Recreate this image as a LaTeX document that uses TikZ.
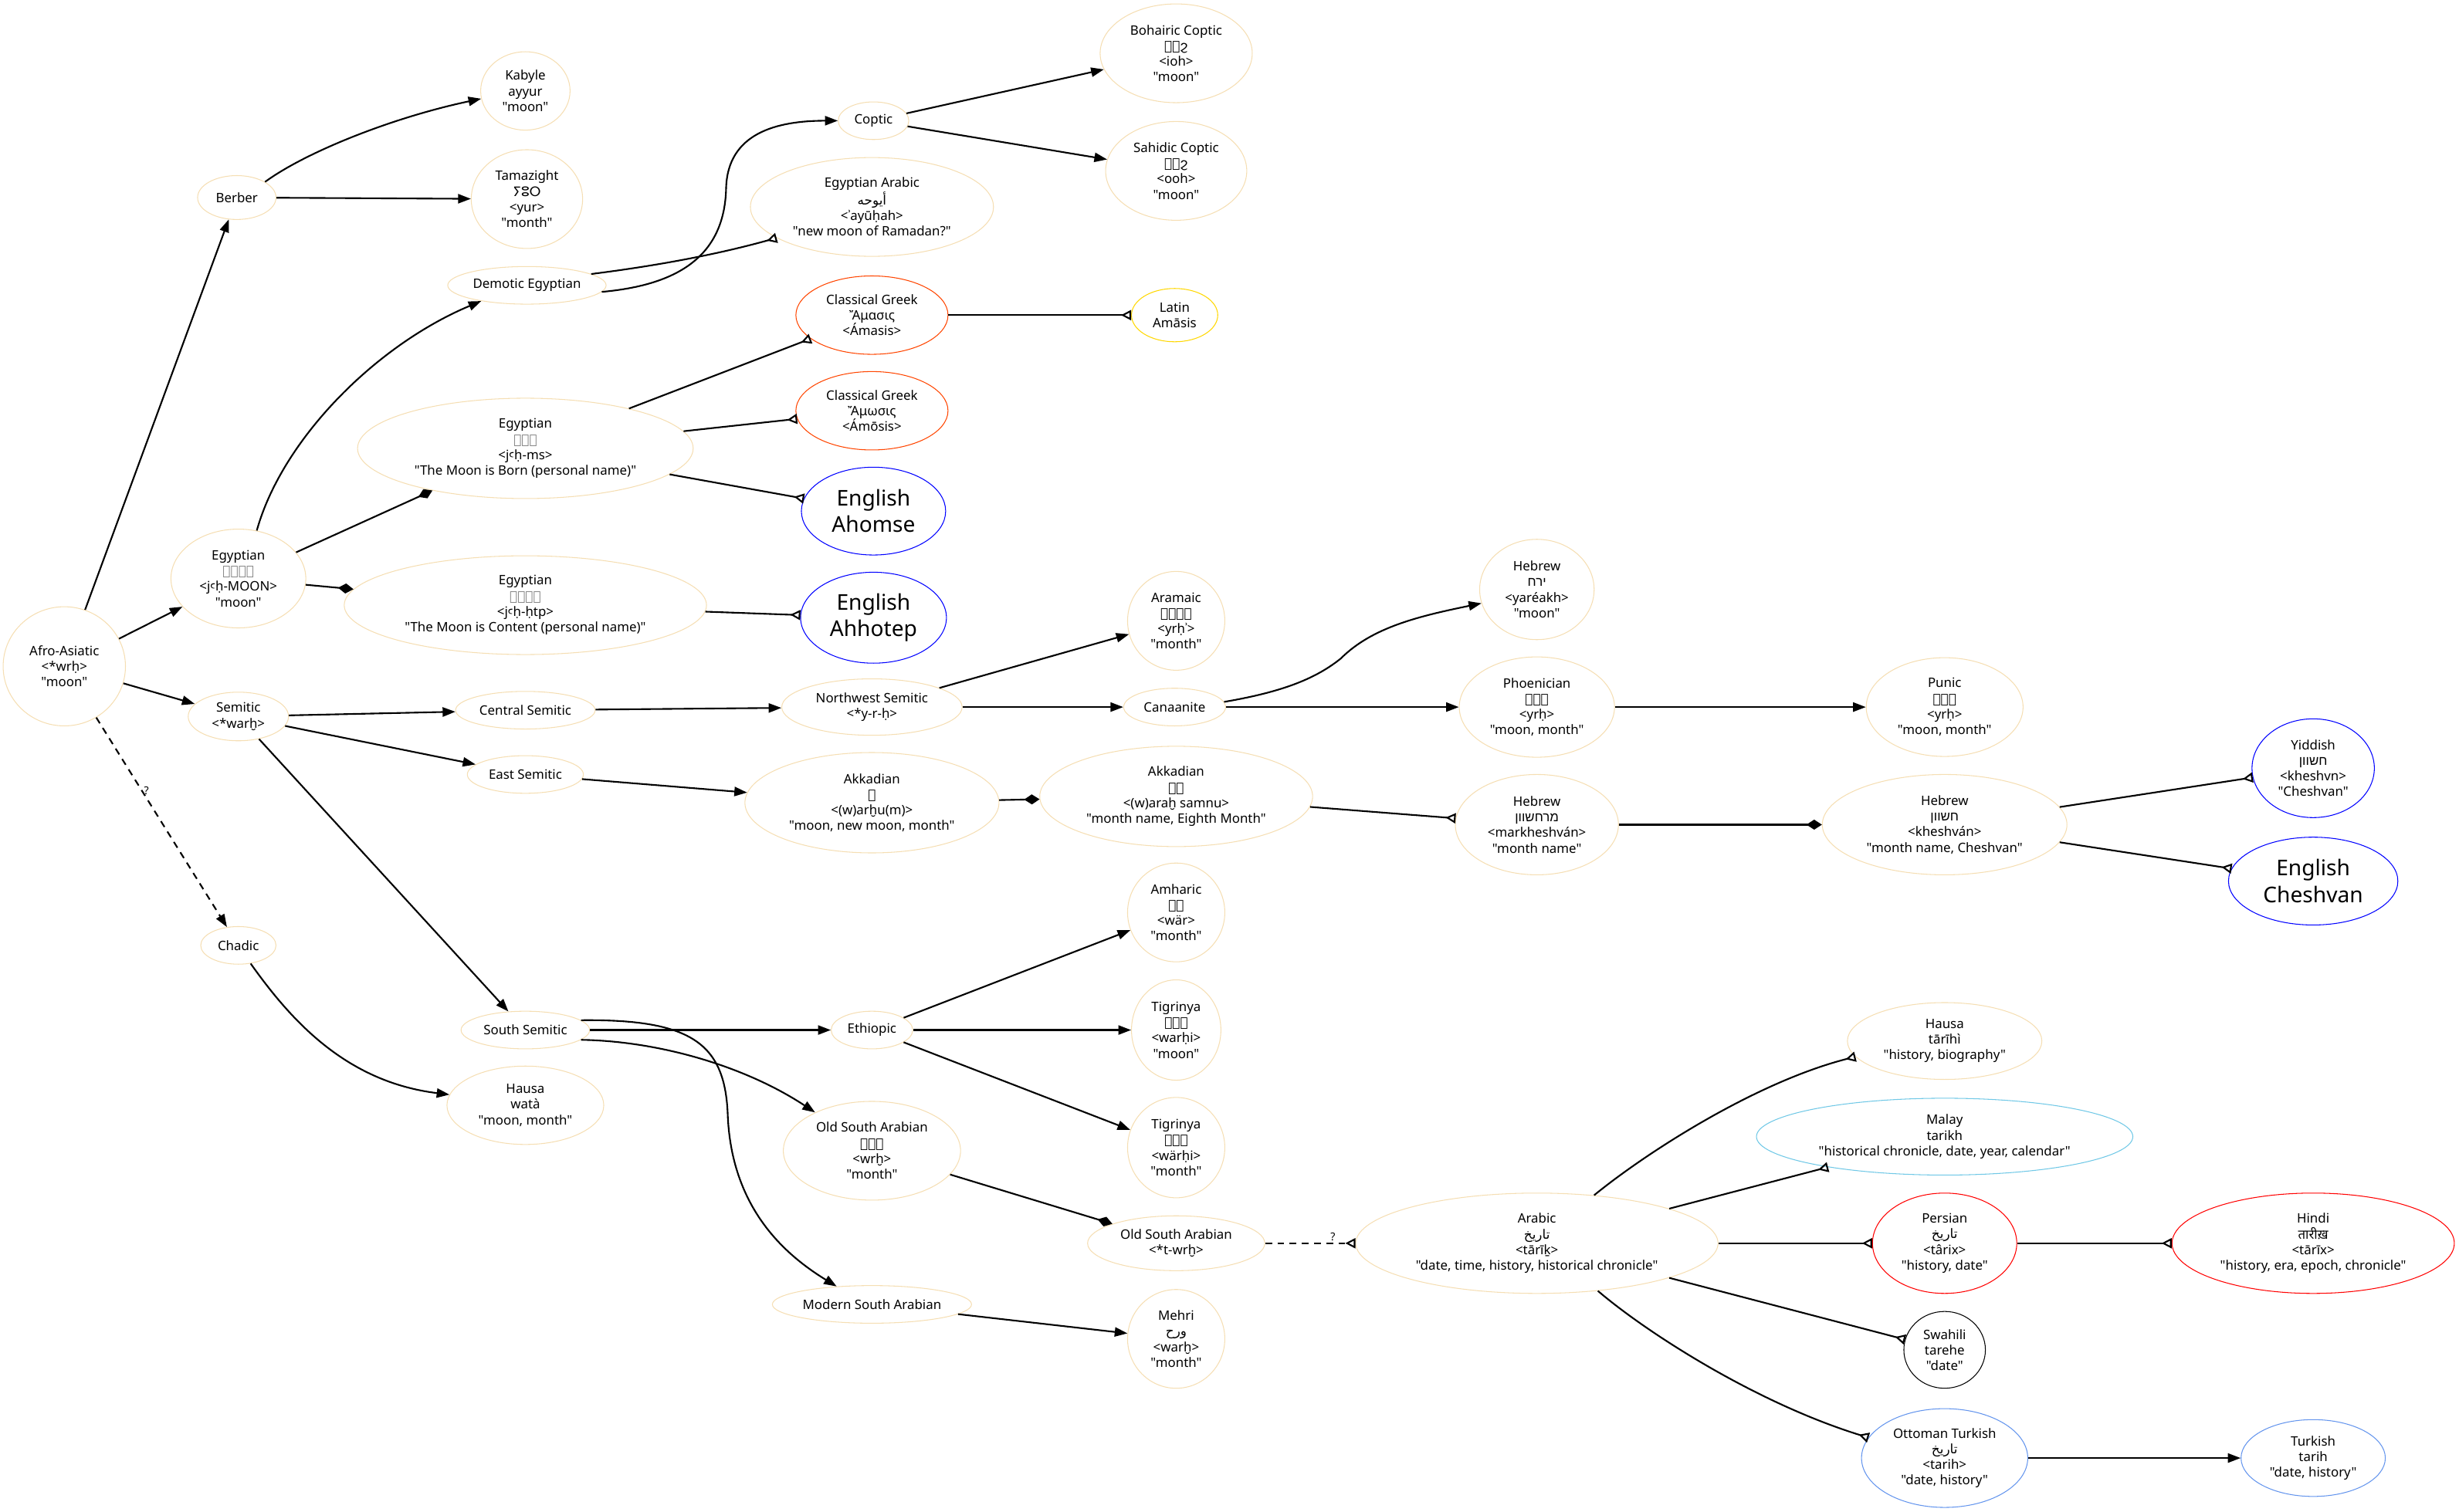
\documentclass[tikz,border=0pt]{standalone}
\usepackage{fontspec}
\setmainfont{Noto Sans}[Ligatures=TeXOff]
\newfontfamily\dvfont{DejaVu Sans}[Ligatures=TeXOff]
\newfontfamily\arfont[Script=Arabic]{DejaVu Sans}
\newfontfamily\hebfont[Script=Hebrew]{Liberation Sans}
\newfontfamily\devfont[Script=Devanagari]{Noto Sans}
\usepackage{xcolor}
\usetikzlibrary{shapes.geometric, arrows.meta}
\TeXXeTstate=1

\definecolor{wheat}{HTML}{F5DEB3}
\definecolor{orangered}{HTML}{FF4500}
\definecolor{gold}{HTML}{FFD700}
\definecolor{cornflower}{HTML}{6495ED}
\definecolor{skyline}{HTML}{70C8E6}

% scripts without a loaded font keep their line height
\newcommand\glyphs[1]{{\dvfont\color{gray}#1}\strut}
\newcommand\rare[1]{{\dvfont #1}\strut}
\newcommand\rarer[1]{{\dvfont\beginR #1\endR}\strut}

\begin{document}
\begin{tikzpicture}[
    x=0.0406cm, y=-0.0406cm,
    font=\fontsize{9.6}{11.5}\selectfont,
    lang/.style={ellipse, draw=wheat, line width=0.6pt, align=center, inner sep=0pt},
    sz/.style 2 args={minimum width=#1*0.0406cm, minimum height=#2*0.0406cm},
    eng/.style={lang, draw=blue, font=\fontsize{16}{19.6}\selectfont},
    link/.style={line width=1.2pt, -{Triangle[length=0.33cm, width=0.24cm]}},
    merge/.style={line width=1.2pt, -{Diamond[length=0.4cm, width=0.26cm]}},
    borrow/.style={line width=1.2pt, -{Triangle[open, reversed, length=0.26cm, width=0.26cm]}},
    qmark/.style={font=\fontsize{8}{9}\selectfont, inner sep=1pt},
    dashes/.style={dash pattern=on 5pt off 4pt}
]
    \useasboundingbox (0,0) rectangle (1568,964);

    % Root and families
    \node[lang, sz={78}{76}] (afro) at (41,425) {Afro-Asiatic\\<*wrḥ>\\"moon"};
    \node[lang, sz={50}{28}] (berber) at (151,126) {Berber};
    \node[lang, sz={86}{63}] (egymoon) at (152,369) {Egyptian\\\glyphs{𓇋𓂝𓎛𓇹}\\<jꜥḥ-MOON>\\"moon"};
    \node[lang, sz={64}{31}] (semitic) at (152,457) {Semitic\\<*warḫ>};
    \node[lang, sz={48}{24}] (chadic) at (152,603) {Chadic};

    % Berber
    \node[lang, sz={57}{50}] (kabyle) at (335,58) {Kabyle\\ayyur\\"moon"};
    \node[lang, sz={71}{63}] (tamazight) at (336,127) {Tamazight\\{\dvfont ⵢⵓⵔ}\\<yur>\\"month"};

    % Egyptian
    \node[lang, sz={101}{24}] (demotic) at (336,182) {Demotic Egyptian};
    \node[lang, sz={214}{64}] (egyms) at (335,286) {Egyptian\\\glyphs{𓇹𓄟𓋴}\\<jꜥḥ-ms>\\"The Moon is Born (personal name)"};
    \node[lang, sz={231}{63}] (egyhtp) at (335,386) {Egyptian\\\glyphs{𓇹𓊵𓏏𓊪}\\<jꜥḥ-ḥtp>\\"The Moon is Content (personal name)"};
    \node[lang, sz={45}{24}] (coptic) at (557,77) {Coptic};
    \node[lang, sz={155}{63}] (egyarabic) at (556,132) {Egyptian Arabic\\{\arfont\beginR أيوحه\endR}\\<ʾayūḥah>\\"new moon of Ramadan?"};
    \node[lang, sz={97}{63}] (bohairic) at (750,34) {Bohairic Coptic\\{\dvfont ⲓⲟϩ}\\<ioh>\\"moon"};
    \node[lang, sz={90}{63}] (sahidic) at (750,109) {Sahidic Coptic\\{\dvfont ⲟⲟϩ}\\<ooh>\\"moon"};
    \node[lang, draw=orangered, sz={97}{50}] (greekA) at (556,201) {Classical Greek\\Ἄμασις\\<Ámasis>};
    \node[lang, draw=gold, sz={55}{34}] (latin) at (749,201) {Latin\\Amāsis};
    \node[lang, draw=orangered, sz={97}{50}] (greekB) at (556,262) {Classical Greek\\Ἄμωσις\\<Ámōsis>};
    \node[eng, sz={92}{56}] (ahomse) at (557,326) {English\\Ahomse};
    \node[eng, sz={93}{58}] (ahhotep) at (557,394) {English\\Ahhotep};

    % Semitic
    \node[lang, sz={89}{24}] (central) at (335,453) {Central Semitic};
    \node[lang, sz={74}{24}] (east) at (335,494) {East Semitic};
    \node[lang, sz={82}{24}] (southsem) at (335,657) {South Semitic};
    \node[lang, sz={100}{50}] (hausaA) at (335,705) {Hausa\\watà\\"moon, month"};
    \node[lang, sz={115}{36}] (nwsem) at (556,451) {Northwest Semitic\\<*y-r-ḥ>};
    \node[lang, sz={65}{24}] (canaan) at (749,451) {Canaanite};
    \node[lang, sz={62}{63}] (aramaic) at (750,396) {Aramaic\\\rarer{𐡉𐡓𐡇𐡀}\\<yrḥʾ>\\"month"};
    \node[lang, sz={73}{64}] (hebyar) at (980,376) {Hebrew\\{\hebfont\beginR ירח\endR}\\<yaréakh>\\"moon"};
    \node[lang, sz={99}{64}] (phoen) at (980,451) {Phoenician\\\rarer{𐤉𐤓𐤇}\\<yrḥ>\\"moon, month"};
    \node[lang, sz={100}{63}] (punic) at (1240,451) {Punic\\\rarer{𐤉𐤓𐤇}\\<yrḥ>\\"moon, month"};
    \node[lang, sz={162}{64}] (akkA) at (556,512) {Akkadian\\\rare{𒌗}\\<(w)arḫu(m)>\\"moon, new moon, month"};
    \node[lang, sz={174}{64}] (akkB) at (750,508) {Akkadian\\\rare{𒌗𒀳}\\<(w)araḫ samnu>\\"month name, Eighth Month"};
    \node[lang, sz={104}{64}] (hebmar) at (980,526) {Hebrew\\{\hebfont\beginR מרחשוון\endR}\\<markheshván>\\"month name"};
    \node[lang, sz={156}{64}] (hebkhe) at (1240,526) {Hebrew\\{\hebfont\beginR חשוון\endR}\\<kheshván>\\"month name, Cheshvan"};
    \node[lang, draw=blue, sz={78}{63}] (yiddish) at (1475,490) {Yiddish\\{\hebfont\beginR חשוון\endR}\\<kheshvn>\\"Cheshvan"};
    \node[eng, sz={108}{56}] (cheshvan) at (1475,562) {English\\Cheshvan};

    % South Semitic
    \node[lang, sz={52}{24}] (ethiopic) at (556,657) {Ethiopic};
    \node[lang, sz={62}{63}] (amharic) at (750,582) {Amharic\\\rare{ወር}\\<wär>\\"month"};
    \node[lang, sz={57}{64}] (tigA) at (750,657) {Tigrinya\\\rare{ዋርሒ}\\<warḥi>\\"moon"};
    \node[lang, sz={62}{64}] (tigB) at (750,732) {Tigrinya\\\rare{ወርሒ}\\<wärḥi>\\"month"};
    \node[lang, sz={113}{63}] (osaA) at (556,734) {Old South Arabian\\\rarer{𐩥𐩧𐩭}\\<wrḫ>\\"month"};
    \node[lang, sz={113}{35}] (osaB) at (750,793) {Old South Arabian\\<*t-wrḫ>};
    \node[lang, sz={127}{24}] (msa) at (556,832) {Modern South Arabian};
    \node[lang, sz={62}{63}] (mehri) at (750,854) {Mehri\\{\arfont\beginR ورح\endR}\\<warḫ>\\"month"};

    % Arabic and its loans
    \node[lang, sz={231}{64}] (arabic) at (980,793) {Arabic\\{\arfont\beginR تاريخ\endR}\\<tārīḵ>\\"date, time, history, historical chronicle"};
    \node[lang, sz={124}{49}] (hausaB) at (1240,664) {Hausa\\tārīhì\\"history, biography"};
    \node[lang, draw=skyline, sz={240}{49}] (malay) at (1240,725) {Malay\\tarikh\\"historical chronicle, date, year, calendar"};
    \node[lang, draw=red, sz={92}{64}] (persian) at (1240,793) {Persian\\{\arfont\beginR تاریخ\endR}\\<târix>\\"history, date"};
    \node[lang, draw=red, sz={180}{64}] (hindi) at (1475,793) {Hindi\\{\devfont तारीख़}\\<tārīx>\\"history, era, epoch, chronicle"};
    \node[lang, draw=black, sz={52}{49}] (swahili) at (1240,861) {Swahili\\tarehe\\"date"};
    \node[lang, draw=cornflower, sz={106}{63}] (ottoman) at (1240,930) {Ottoman Turkish\\{\arfont\beginR تاریخ\endR}\\<tarih>\\"date, history"};
    \node[lang, draw=cornflower, sz={92}{49}] (turkish) at (1475,930) {Turkish\\tarih\\"date, history"};

    % Inheritance
    \draw[link] (afro) -- (berber);
    \draw[link] (afro) -- (egymoon);
    \draw[link] (afro) -- (semitic);
    \draw[link, dashes] (afro) -- node[qmark, pos=0.35, right] {?} (chadic);
    \draw[link] (berber.29) .. controls (195,97) and (250,75) .. (kabyle.190);
    \draw[link] (berber) -- (tamazight);
    \draw[link] (egymoon.69) .. controls (180,280) and (240,220) .. (demotic.199);
    \draw[link] (demotic.-5) .. controls (430,182) and (462,165) .. (463,120) .. controls (464,85) and (495,77) .. (coptic.west);
    \draw[link] (coptic) -- (bohairic);
    \draw[link] (coptic) -- (sahidic);
    \draw[link] (semitic) -- (central);
    \draw[link] (semitic) -- (east);
    \draw[link] (semitic) -- (southsem);
    \draw[link] (central) -- (nwsem);
    \draw[link] (nwsem) -- (aramaic);
    \draw[link] (nwsem) -- (canaan);
    \draw[link] (canaan.6) .. controls (820,441) and (840,432) .. (855,420) .. controls (875,400) and (905,393) .. (hebyar.194);
    \draw[link] (canaan) -- (phoen);
    \draw[link] (phoen) -- (punic);
    \draw[link] (east) -- (akkA);
    \draw[link] (chadic.-56) .. controls (185,650) and (220,690) .. (hausaA.172);
    \draw[link] (southsem) -- (ethiopic);
    \draw[link] (southsem.-10) .. controls (420,664) and (475,680) .. (osaA.146);
    \draw[link] (southsem.10) .. controls (440,650) and (462,665) .. (464,710) .. controls (466,770) and (500,800) .. (msa.153);
    \draw[link] (ethiopic) -- (amharic);
    \draw[link] (ethiopic) -- (tigA);
    \draw[link] (ethiopic) -- (tigB);
    \draw[link] (msa) -- (mehri);
    \draw[link] (ottoman) -- (turkish);

    % Compounds
    \draw[merge] (egymoon) -- (egyms);
    \draw[merge] (egymoon) -- (egyhtp);
    \draw[merge] (akkA) -- (akkB);
    \draw[merge] (hebmar) -- (hebkhe);
    \draw[merge] (osaA) -- (osaB);

    % Borrowings
    \draw[borrow] (demotic.10) .. controls (415,170) and (455,163) .. (egyarabic.198);
    \draw[borrow] (egyms) -- (greekA);
    \draw[borrow] (egyms) -- (greekB);
    \draw[borrow] (egyms) -- (ahomse);
    \draw[borrow] (egyhtp) -- (ahhotep);
    \draw[borrow] (greekA) -- (latin);
    \draw[borrow] (akkB) -- (hebmar);
    \draw[borrow] (hebkhe) -- (yiddish);
    \draw[borrow] (hebkhe) -- (cheshvan);
    \draw[borrow, dashes] (osaB) -- node[qmark, pos=0.75, above] {?} (arabic);
    \draw[borrow] (arabic.40) .. controls (1050,735) and (1120,690) .. (hausaB.190);
    \draw[borrow] (arabic) -- (malay);
    \draw[borrow] (arabic) -- (persian);
    \draw[borrow] (arabic) -- (swahili);
    \draw[borrow] (arabic.-38) .. controls (1050,850) and (1120,895) .. (ottoman.165);
    \draw[borrow] (persian) -- (hindi);

\end{tikzpicture}
\end{document}
